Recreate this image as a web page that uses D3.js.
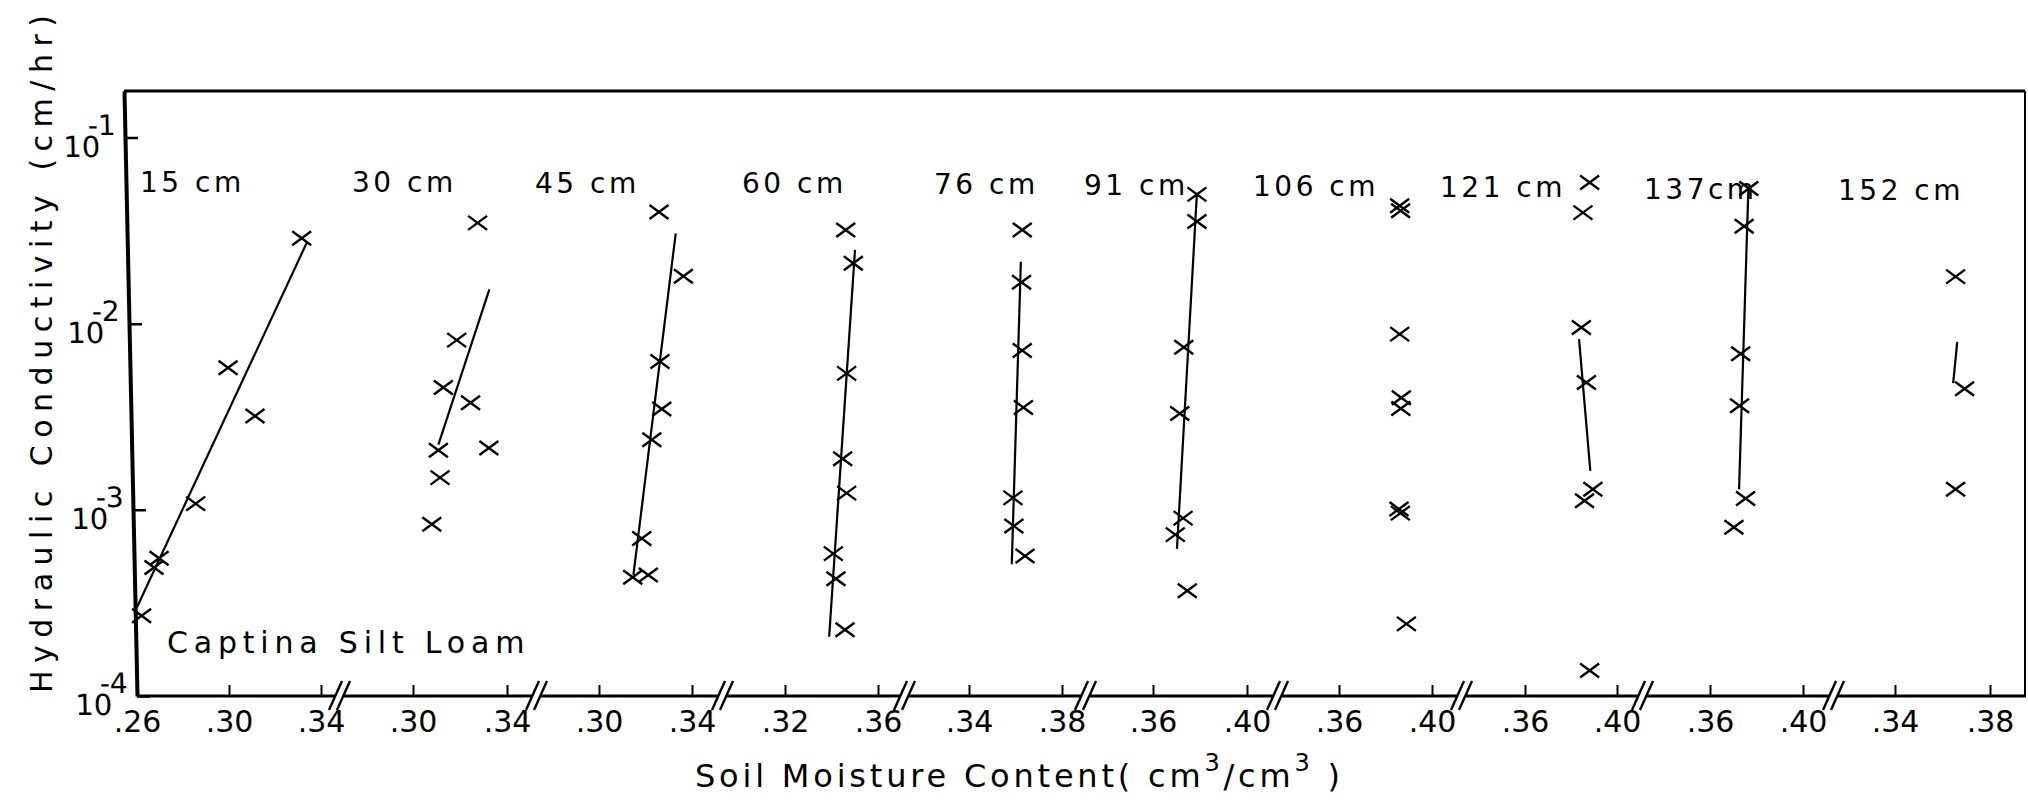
<!DOCTYPE html>
<html>
<head>
<meta charset="utf-8">
<script src="https://cdn.jsdelivr.net/npm/d3@7"></script>
<style>
  html, body { margin: 0; padding: 0; background: #fff; }
  svg { display: block; }
  text { font-family: "DejaVu Sans", sans-serif; fill: #000; }
</style>
</head>
<body>
<svg id="chart" width="2028" height="803"></svg>
<script>
// ---- data -------------------------------------------------------------
// Sampling depths, one panel each
const depths = ["15 cm", "30 cm", "45 cm", "60 cm", "76 cm", "91 cm", "106 cm", "121 cm", "137cm", "152 cm"];

// Soil moisture tick values shown under each panel (cm3/cm3)
const xTicks = [
  [0.26, 0.30, 0.34], [0.30, 0.34], [0.30, 0.34], [0.32, 0.36], [0.34, 0.38],
  [0.36, 0.40], [0.36, 0.40], [0.36, 0.40], [0.36, 0.40], [0.34, 0.38]
];

// Hydraulic conductivity decades (cm/hr) and their exponents
const yTicks = [1e-4, 1e-3, 1e-2, 1e-1];
const yExponents = ["-4", "-3", "-2", "-1"];

// Measurements: [moisture content, hydraulic conductivity]
const obs15  = [[0.3316, 0.0288], [0.2996, 0.0058], [0.3113, 0.00319], [0.2855, 0.00108], [0.2696, 0.00055], [0.2674, 0.00049], [0.2620, 0.00027]];
const obs30  = [[0.3275, 0.0348], [0.3186, 0.00816], [0.3129, 0.00454], [0.3245, 0.00376], [0.3323, 0.00215], [0.3108, 0.00209], [0.3115, 0.00149], [0.3080, 0.000837]];
const obs45  = [[0.3258, 0.0398], [0.3363, 0.0180], [0.3262, 0.00627], [0.3270, 0.00348], [0.3227, 0.00238], [0.3184, 0.000701], [0.3145, 0.000434], [0.3212, 0.000447]];
const obs60  = [[0.3461, 0.0319], [0.3494, 0.0211], [0.3465, 0.00541], [0.3448, 0.00188], [0.3465, 0.00123], [0.3408, 0.000582], [0.3419, 0.000426], [0.3458, 0.000227]];
const obs76  = [[0.3629, 0.0319], [0.3626, 0.0167], [0.3629, 0.00718], [0.3634, 0.00355], [0.3589, 0.00116], [0.3593, 0.000818], [0.3641, 0.000565]];
const obs91  = [[0.3787, 0.0495], [0.3787, 0.0354], [0.3731, 0.00748], [0.3714, 0.00329], [0.3728, 0.000903], [0.3695, 0.000736], [0.3746, 0.000368]];
const obs106 = [[0.3861, 0.0430], [0.3865, 0.0404], [0.3861, 0.00879], [0.3868, 0.0040], [0.3866, 0.0035], [0.3858, 0.00101], [0.3864, 0.00096], [0.3890, 0.000244]];
const obs121 = [[0.3881, 0.0573], [0.3852, 0.0395], [0.3845, 0.00954], [0.3867, 0.00483], [0.3895, 0.00129], [0.3859, 0.00112], [0.3881, 0.000137]];
const obs137 = [[0.3767, 0.0533], [0.3747, 0.0334], [0.3732, 0.00690], [0.3727, 0.00362], [0.3753, 0.00115], [0.3703, 0.000807]];
const obs152 = [[0.3655, 0.0179], [0.3693, 0.00447], [0.3655, 0.00129]];

// Fitted log-linear relations (end points); 106 cm has none
const fit15  = [[0.2600, 0.00030], [0.3338, 0.0272]];
const fit30  = [[0.3108, 0.00224], [0.3325, 0.0153]];
const fit45  = [[0.3148, 0.000447], [0.3330, 0.0306]];
const fit60  = [[0.3390, 0.000208], [0.3501, 0.0249]];
const fit76  = [[0.3584, 0.00051], [0.3623, 0.0215]];
const fit91  = [[0.3702, 0.000617], [0.3787, 0.0504]];
const fit121 = [[0.3835, 0.00827], [0.3884, 0.00162]];
const fit137 = [[0.3725, 0.00129], [0.3765, 0.0527]];
const fit152 = [[0.3662, 0.00799], [0.3645, 0.00480]];

const observations = [obs15, obs30, obs45, obs60, obs76, obs91, obs106, obs121, obs137, obs152];
const fits = [fit15, fit30, fit45, fit60, fit76, fit91, null, fit121, fit137, fit152];

// ---- layout -----------------------------------------------------------
const yTop = 91, yBottom = 696;
const axisTopX = 124, axisBottomX = 137;   // the hand-drawn left axis leans slightly
const frameRight = 2025;
// pixel positions of the first and last tick of every panel
const panelTickPx = [[137, 321], [413, 507], [599, 692], [785, 878], [969, 1062],
                     [1153, 1247], [1339, 1432], [1525, 1617], [1710, 1803], [1895, 1990]];
// centres of the "//" axis breaks between panels
const breakPx = [340, 537, 723, 905, 1086, 1278, 1462, 1643, 1834];
// depth label anchors (left x, baseline y)
const labelPos = [[140, 192], [352, 192], [535, 193], [742, 193], [934, 194],
                  [1084, 195], [1253, 196], [1440, 197], [1644, 199], [1838, 200]];

const INK = "#000";
const svg = d3.select("#chart");

const y = d3.scaleLog().domain([1e-4, Math.pow(10, -0.75)]).range([yBottom, yTop]);

// frame: top and right edges
svg.append("line")
  .attr("x1", axisTopX).attr("y1", yTop).attr("x2", frameRight).attr("y2", yTop)
  .attr("stroke", INK).attr("stroke-width", 3);
svg.append("line")
  .attr("x1", frameRight).attr("y1", yTop).attr("x2", frameRight).attr("y2", yBottom)
  .attr("stroke", INK).attr("stroke-width", 2);

// x baseline running across all panels
svg.append("line")
  .attr("x1", axisBottomX).attr("y1", yBottom).attr("x2", frameRight + 1).attr("y2", yBottom)
  .attr("stroke", INK).attr("stroke-width", 3);

// axis breaks
const brk = svg.append("g");
breakPx.forEach(b => {
  brk.append("rect").attr("x", b - 4).attr("y", yBottom - 3).attr("width", 8).attr("height", 6).attr("fill", "#fff");
  brk.append("line").attr("x1", b - 11).attr("y1", yBottom + 14).attr("x2", b + 2).attr("y2", yBottom - 15)
    .attr("stroke", INK).attr("stroke-width", 2.4);
  brk.append("line").attr("x1", b - 3).attr("y1", yBottom + 14).attr("x2", b + 10).attr("y2", yBottom - 15)
    .attr("stroke", INK).attr("stroke-width", 2.4);
});

// left (log) axis, skewed to follow the leaning line
const k = (axisBottomX - axisTopX) / (yBottom - yTop);
const yg = svg.append("g")
  .attr("transform", `translate(${axisBottomX - k * yBottom},0) skewX(${Math.atan(k) * 180 / Math.PI})`);
yg.call(d3.axisRight(y).tickValues(yTicks).tickSizeInner(13).tickSizeOuter(0).tickFormat(""));
yg.select(".domain").attr("stroke", INK).attr("stroke-width", 4);
yg.selectAll(".tick line").attr("stroke", INK).attr("stroke-width", 2.5);

yg.selectAll("text.ybase").data(yTicks).join("text")
  .attr("class", "ybase")
  .attr("x", -25).attr("y", d => y(d) + 19)
  .attr("text-anchor", "end").attr("font-size", 29)
  .text("10");
yg.selectAll("text.yexp").data(yTicks).join("text")
  .attr("class", "yexp")
  .attr("x", -9).attr("y", d => y(d) - 3)
  .attr("text-anchor", "end").attr("font-size", 28)
  .text((d, i) => yExponents[i]);

// panels
const marker = "M-9.5,-7L9.5,7M-9.5,7L9.5,-7";
depths.forEach((name, i) => {
  const ticks = xTicks[i];
  const x = d3.scaleLinear().domain([ticks[0], ticks[ticks.length - 1]]).range(panelTickPx[i]);
  const g = svg.append("g").attr("class", "panel");

  const axg = g.append("g").attr("transform", `translate(0,${yBottom})`)
    .call(d3.axisBottom(x).tickValues(ticks).tickSizeInner(-11).tickSizeOuter(0)
      .tickFormat(d => d.toFixed(2).replace(/^0/, "")));
  axg.select(".domain").remove();
  axg.selectAll(".tick line").attr("stroke", INK).attr("stroke-width", 2);
  axg.selectAll(".tick text")
    .attr("y", 36).attr("dy", null)
    .attr("fill", INK)
    .style("font-family", '"DejaVu Sans", sans-serif').style("font-size", "30px");

  if (fits[i]) {
    g.append("path").datum(fits[i])
      .attr("d", d3.line().x(d => x(d[0])).y(d => y(d[1])))
      .attr("fill", "none").attr("stroke", INK).attr("stroke-width", 2.2);
  }

  g.selectAll("path.obs").data(observations[i]).join("path")
    .attr("class", "obs")
    .attr("transform", d => `translate(${x(d[0])},${y(d[1])})`)
    .attr("d", marker)
    .attr("fill", "none").attr("stroke", INK).attr("stroke-width", 2.4);

  g.append("text")
    .attr("x", labelPos[i][0]).attr("y", labelPos[i][1])
    .attr("font-size", 28).attr("letter-spacing", 3.5)
    .text(name);
});

// soil name
svg.append("text")
  .attr("x", 167).attr("y", 653)
  .attr("font-size", 30).attr("letter-spacing", 5.8)
  .text("Captina  Silt  Loam");

// axis titles
svg.append("text")
  .attr("transform", "translate(52,693) rotate(-90)")
  .attr("font-size", 30).attr("letter-spacing", 7.5)
  .text("Hydraulic Conductivity (cm/hr)");

const xt = svg.append("text")
  .attr("x", 695).attr("y", 787)
  .attr("font-size", 32).attr("letter-spacing", 3.8);
xt.append("tspan").text("Soil Moisture Content( cm");
xt.append("tspan").attr("dy", -16).attr("font-size", 24).text("3");
xt.append("tspan").attr("dy", 16).text("/cm");
xt.append("tspan").attr("dy", -16).attr("font-size", 24).text("3");
xt.append("tspan").attr("dy", 16).text(" )");
</script>
</body>
</html>
